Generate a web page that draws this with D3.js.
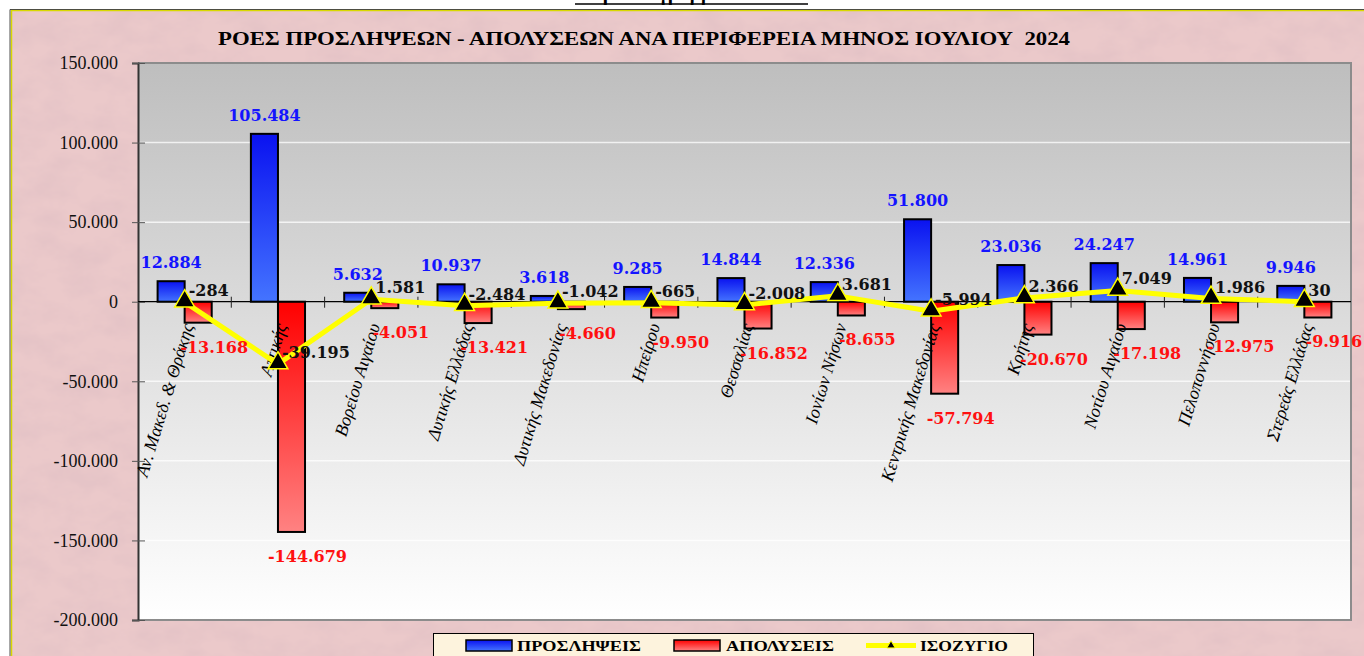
<!DOCTYPE html>
<html>
<head>
<meta charset="utf-8">
<script src="https://cdn.jsdelivr.net/npm/d3@7/dist/d3.min.js"></script>
<style>
  body { margin: 0; background: #fff; }
  svg { display: block; }
</style>
</head>
<body>
<div id="chart"></div>
<script>
var categories = ["Αν. Μακεδ. & Θράκης", "Αττικής", "Βορείου Αιγαίου", "Δυτικής Ελλάδας",
                  "Δυτικής Μακεδονίας", "Ηπείρου", "Θεσσαλίας", "Ιονίων Νήσων",
                  "Κεντρικής Μακεδονίας", "Κρήτης", "Νοτίου Αιγαίου", "Πελοποννήσου", "Στερεάς Ελλάδας"];

var hires = [12884, 105484, 5632, 10937, 3618, 9285, 14844, 12336, 51800, 23036, 24247, 14961, 9946];
var fires = [-13168, -144679, -4051, -13421, -4660, -9950, -16852, -8655, -57794, -20670, -17198, -12975, -9916];
var balance = [-284, -39195, 1581, -2484, -1042, -665, -2008, 3681, -5994, 2366, 7049, 1986, 30];

var yTicks = [150000, 100000, 50000, 0, -50000, -100000, -150000, -200000];

var seriesNames = ["ΠΡΟΣΛΗΨΕΙΣ", "ΑΠΟΛΥΣΕΙΣ", "ΙΣΟΖΥΓΙΟ"];
var title = "ΡΟΕΣ ΠΡΟΣΛΗΨΕΩΝ - ΑΠΟΛΥΣΕΩΝ ΑΝΑ ΠΕΡΙΦΕΡΕΙΑ ΜΗΝΟΣ ΙΟΥΛΙΟΥ  2024";

var W = 1364, H = 656;
var plot = {left: 138, right: 1351, top: 63, bottom: 620};
var serif = "'Liberation Serif', 'Times New Roman', Times, serif";

var locale = d3.formatLocale({decimal: ",", thousands: ".", grouping: [3], currency: ["", "€"], minus: "-"});
var fmt = locale.format(",d");

var svg = d3.select("#chart").append("svg")
  .attr("width", W).attr("height", H);

var defs = svg.append("defs");

// marble texture for the pink frame
var marble = defs.append("filter").attr("id", "marble")
  .attr("x", 0).attr("y", 0).attr("width", "100%").attr("height", "100%");
marble.append("feTurbulence")
  .attr("type", "fractalNoise")
  .attr("baseFrequency", "0.03 0.045")
  .attr("numOctaves", 4)
  .attr("seed", 11);
marble.append("feColorMatrix")
  .attr("type", "matrix")
  .attr("values", "0 0 0 0 0.74  0 0 0 0 0.52  0 0 0 0 0.55  1.1 0 0 0 -0.38");

var plotGrad = defs.append("linearGradient").attr("id", "plotGrad")
  .attr("x1", 0).attr("y1", 0).attr("x2", 0).attr("y2", 1);
plotGrad.append("stop").attr("offset", "0%").attr("stop-color", "#bebebe");
plotGrad.append("stop").attr("offset", "100%").attr("stop-color", "#ffffff");

var blueGrad = defs.append("linearGradient").attr("id", "blueGrad")
  .attr("x1", 0).attr("y1", 0).attr("x2", 0).attr("y2", 1);
blueGrad.append("stop").attr("offset", "0%").attr("stop-color", "#0a12f0");
blueGrad.append("stop").attr("offset", "100%").attr("stop-color", "#4474ff");

var redGrad = defs.append("linearGradient").attr("id", "redGrad")
  .attr("x1", 0).attr("y1", 0).attr("x2", 0).attr("y2", 1);
redGrad.append("stop").attr("offset", "0%").attr("stop-color", "#ff0000");
redGrad.append("stop").attr("offset", "100%").attr("stop-color", "#ff8282");

// page scrap above the frame
svg.append("text")
  .attr("x", 575).attr("y", 0)
  .attr("font-family", serif).attr("font-weight", "bold").attr("font-size", 20)
  .text("Σειρά Διαγραμμάτων ΣΤ");
svg.append("line")
  .attr("x1", 575).attr("x2", 808).attr("y1", 4).attr("y2", 4)
  .attr("stroke", "#000").attr("stroke-width", 1.5);

// frame
svg.append("rect")
  .attr("x", 11).attr("y", 11).attr("width", W - 11).attr("height", H - 11)
  .attr("fill", "#ebc9ca");
svg.append("rect")
  .attr("x", 11).attr("y", 11).attr("width", W - 11).attr("height", H - 11)
  .attr("filter", "url(#marble)");
svg.append("path")
  .attr("d", "M11.5," + H + "V10.5H" + W)
  .attr("fill", "none").attr("stroke", "#d8d800").attr("stroke-width", 1.5);
svg.append("path")
  .attr("d", "M10," + H + "V9.5H" + W)
  .attr("fill", "none").attr("stroke", "#222").attr("stroke-width", 0.8);

svg.append("text")
  .attr("x", 644).attr("y", 45)
  .attr("text-anchor", "middle")
  .attr("font-family", serif).attr("font-weight", "bold").attr("font-size", 18)
  .attr("textLength", 852).attr("lengthAdjust", "spacingAndGlyphs")
  .attr("xml:space", "preserve")
  .text(title);

var x = d3.scaleBand().domain(categories)
  .range([plot.left, plot.right])
  .paddingInner(0.42).paddingOuter(0.21);
var xs = d3.scaleBand().domain([0, 1]).range([0, x.bandwidth()]);
var y = d3.scaleLinear().domain([-200000, 150000]).range([plot.bottom, plot.top]);

var cx = function(i){ return x(categories[i]) + x.bandwidth() / 2; };

// plot area
svg.append("rect")
  .attr("x", plot.left).attr("y", plot.top)
  .attr("width", plot.right - plot.left).attr("height", plot.bottom - plot.top)
  .attr("fill", "url(#plotGrad)");

svg.append("g").selectAll("line")
  .data(yTicks.filter(function(d){ return d != 150000 && d != -200000 && d != 0; }))
  .enter().append("line")
    .attr("x1", plot.left).attr("x2", plot.right)
    .attr("y1", function(d){ return y(d); }).attr("y2", function(d){ return y(d); })
    .attr("stroke", "#ffffff").attr("stroke-opacity", 0.75).attr("stroke-width", 1.5);

svg.append("path")
  .attr("d", "M" + plot.left + "," + plot.top + "H" + plot.right + "V" + plot.bottom + "H" + plot.left)
  .attr("fill", "none").attr("stroke", "#8c8c8c").attr("stroke-width", 2);

// y axis
var yAxis = svg.append("g")
  .attr("transform", "translate(" + plot.left + ",0)")
  .call(d3.axisLeft(y).tickValues(yTicks).tickFormat(fmt).tickSize(6).tickPadding(14));
yAxis.select(".domain").attr("stroke", "#333").attr("stroke-width", 2);
yAxis.selectAll(".tick line").attr("stroke", "#555").attr("x2", 7).attr("x1", -6);
yAxis.selectAll(".tick text")
  .attr("font-family", serif).attr("font-size", 18).attr("fill", "#111")
  .attr("dy", "0.32em");

// bars
var bars = svg.append("g");
bars.selectAll("rect.hire")
  .data(hires).enter().append("rect")
    .attr("class", "hire")
    .attr("x", function(d, i){ return x(categories[i]) + xs(0); })
    .attr("width", xs.bandwidth())
    .attr("y", function(d){ return y(Math.max(0, d)); })
    .attr("height", function(d){ return Math.abs(y(d) - y(0)); })
    .attr("fill", "url(#blueGrad)").attr("stroke", "#000").attr("stroke-width", 2);
bars.selectAll("rect.fire")
  .data(fires).enter().append("rect")
    .attr("class", "fire")
    .attr("x", function(d, i){ return x(categories[i]) + xs(1); })
    .attr("width", xs.bandwidth())
    .attr("y", function(d){ return y(Math.max(0, d)); })
    .attr("height", function(d){ return Math.abs(y(d) - y(0)); })
    .attr("fill", "url(#redGrad)").attr("stroke", "#000").attr("stroke-width", 2);

// category axis at zero
svg.append("line")
  .attr("x1", plot.left).attr("x2", plot.right)
  .attr("y1", y(0)).attr("y2", y(0))
  .attr("stroke", "#000").attr("stroke-width", 1.2);
svg.append("g").selectAll("line")
  .data(categories.slice(1)).enter().append("line")
    .attr("x1", function(d){ return x(d) - x.step() * 0.21; })
    .attr("x2", function(d){ return x(d) - x.step() * 0.21; })
    .attr("y1", y(0) - 5).attr("y2", y(0) + 6)
    .attr("stroke", "#222").attr("stroke-width", 1);

svg.append("g").selectAll("text")
  .data(categories).enter().append("text")
    .attr("transform", function(d, i){ return "translate(" + (cx(i) + 9) + "," + (y(0) + 24) + ") rotate(-73)"; })
    .attr("text-anchor", "end")
    .attr("font-family", serif).attr("font-style", "italic").attr("font-size", 18)
    .attr("fill", "#000")
    .text(function(d){ return d; });

// balance line
var line = d3.line()
  .x(function(d, i){ return cx(i); })
  .y(function(d){ return y(d); });
svg.append("path")
  .datum(balance)
  .attr("d", line)
  .attr("fill", "none").attr("stroke", "#ffff00").attr("stroke-width", 5)
  .attr("stroke-linejoin", "round");

var tri = d3.symbol().type(d3.symbolTriangle).size(170);
svg.append("g").selectAll("path")
  .data(balance).enter().append("path")
    .attr("d", tri)
    .attr("transform", function(d, i){ return "translate(" + cx(i) + "," + (y(d) - 1) + ")"; })
    .attr("fill", "#000").attr("stroke", "#ffff00").attr("stroke-width", 1.5);

// data labels
var labelFont = "DejaVu Serif";
svg.append("g").selectAll("text")
  .data(hires).enter().append("text")
    .attr("x", function(d, i){ return x(categories[i]) + xs(0) + xs.bandwidth() / 2; })
    .attr("y", function(d){ return y(d) - 13; })
    .attr("text-anchor", "middle")
    .attr("font-family", labelFont).attr("font-weight", "bold").attr("font-size", 16)
    .attr("fill", "#1414ff")
    .text(fmt);

svg.append("g").selectAll("text")
  .data(fires).enter().append("text")
    .attr("x", function(d, i){ return x(categories[i]) + xs(1) + xs.bandwidth() / 2 + 16; })
    .attr("y", function(d){ return y(d) + 30; })
    .attr("text-anchor", "middle")
    .attr("font-family", labelFont).attr("font-weight", "bold").attr("font-size", 16)
    .attr("fill", "#ff1010")
    .text(fmt);

svg.append("g").selectAll("text")
  .data(balance).enter().append("text")
    .attr("x", function(d, i){ return cx(i) + 4; })
    .attr("y", function(d){ return y(d) - 6; })
    .attr("text-anchor", "start")
    .attr("font-family", labelFont).attr("font-weight", "bold").attr("font-size", 16)
    .attr("fill", "#111")
    .text(fmt);

// legend
var legend = svg.append("g");
legend.append("rect")
  .attr("x", 433.5).attr("y", 633.5).attr("width", 600).attr("height", 40)
  .attr("fill", "#fdf3dd").attr("stroke", "#000").attr("stroke-width", 1);

var legendX = [466, 674, 866];
var legendTextX = [517, 726, 920];
var legendTextW = [124, 108, 88];
legend.append("rect")
  .attr("x", legendX[0]).attr("y", 640).attr("width", 46).attr("height", 11)
  .attr("fill", "url(#blueGrad)").attr("stroke", "#000").attr("stroke-width", 1.5);
legend.append("rect")
  .attr("x", legendX[1]).attr("y", 640).attr("width", 46).attr("height", 11)
  .attr("fill", "url(#redGrad)").attr("stroke", "#000").attr("stroke-width", 1.5);
legend.append("line")
  .attr("x1", legendX[2]).attr("x2", legendX[2] + 50).attr("y1", 645.5).attr("y2", 645.5)
  .attr("stroke", "#ffff00").attr("stroke-width", 5);
legend.append("path")
  .attr("d", d3.symbol().type(d3.symbolTriangle).size(30))
  .attr("transform", "translate(" + (legendX[2] + 25) + ",645.5)")
  .attr("fill", "#000").attr("stroke", "#ffff00").attr("stroke-width", 1);

legend.selectAll("text.lbl")
  .data(seriesNames).enter().append("text")
    .attr("class", "lbl")
    .attr("x", function(d, i){ return legendTextX[i]; })
    .attr("y", 651)
    .attr("font-family", serif).attr("font-weight", "bold").attr("font-size", 15)
    .attr("textLength", function(d, i){ return legendTextW[i]; })
    .attr("lengthAdjust", "spacingAndGlyphs")
    .attr("fill", "#000")
    .text(function(d){ return d; });
</script>
</body>
</html>
